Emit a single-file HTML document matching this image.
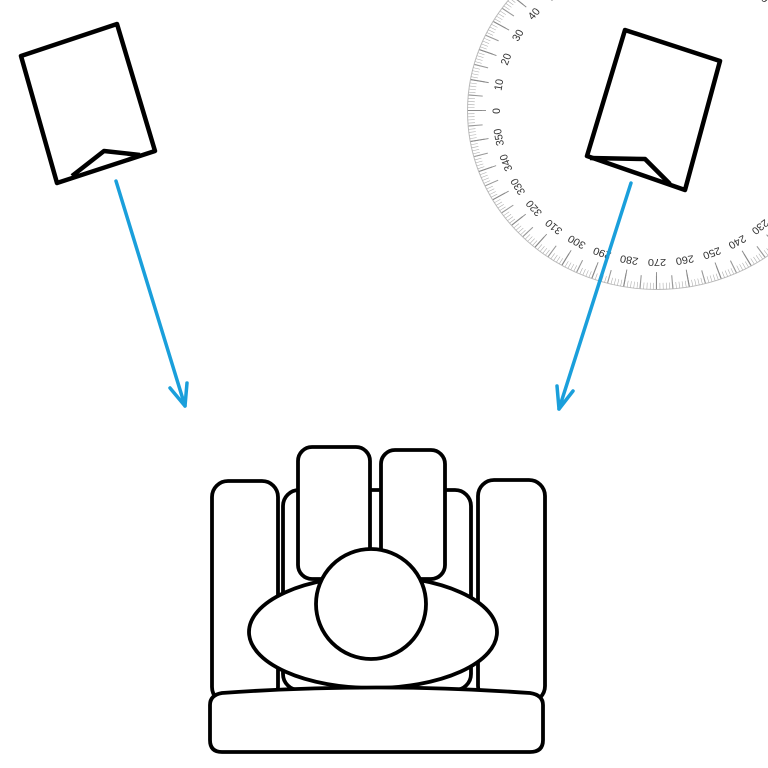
<!DOCTYPE html>
<html><head><meta charset="utf-8"><style>
html,body{margin:0;padding:0;background:#fff;}
svg{display:block;}
</style></head><body>
<svg width="768" height="768" viewBox="0 0 768 768" xmlns="http://www.w3.org/2000/svg">
<rect width="768" height="768" fill="#fff"/>
<g transform="translate(657 111) scale(1 0.942)">
  <circle r="189.5" fill="none" stroke="#bbb" stroke-width="1"/>
  <circle r="186" fill="none" stroke="#aaa" stroke-width="7" pathLength="720" stroke-dasharray="0.35 1.65"/>
  <circle r="182" fill="none" stroke="#999" stroke-width="14" pathLength="72" stroke-dasharray="0.07 0.93"/>
  <circle r="180" fill="none" stroke="#888" stroke-width="18" pathLength="36" stroke-dasharray="0.03 0.97" transform="rotate(180)"/>
  <g font-family="Liberation Sans, sans-serif" font-size="11" fill="#333" text-anchor="middle">
    <text transform="rotate(0) translate(-160 0) rotate(-90)" dy="3">0</text>
    <text transform="rotate(10) translate(-160 0) rotate(-90)" dy="3">10</text>
    <text transform="rotate(20) translate(-160 0) rotate(-90)" dy="3">20</text>
    <text transform="rotate(30) translate(-160 0) rotate(-90)" dy="3">30</text>
    <text transform="rotate(40) translate(-160 0) rotate(-90)" dy="3">40</text>
    <text transform="rotate(50) translate(-160 0) rotate(-90)" dy="3">50</text>
    <text transform="rotate(60) translate(-160 0) rotate(-90)" dy="3">60</text>
    <text transform="rotate(70) translate(-160 0) rotate(-90)" dy="3">70</text>
    <text transform="rotate(80) translate(-160 0) rotate(-90)" dy="3">80</text>
    <text transform="rotate(90) translate(-160 0) rotate(-90)" dy="3">90</text>
    <text transform="rotate(100) translate(-160 0) rotate(-90)" dy="3">100</text>
    <text transform="rotate(110) translate(-160 0) rotate(-90)" dy="3">110</text>
    <text transform="rotate(120) translate(-160 0) rotate(-90)" dy="3">120</text>
    <text transform="rotate(130) translate(-160 0) rotate(-90)" dy="3">130</text>
    <text transform="rotate(140) translate(-160 0) rotate(-90)" dy="3">140</text>
    <text transform="rotate(150) translate(-160 0) rotate(-90)" dy="3">150</text>
    <text transform="rotate(160) translate(-160 0) rotate(-90)" dy="3">160</text>
    <text transform="rotate(170) translate(-160 0) rotate(-90)" dy="3">170</text>
    <text transform="rotate(180) translate(-160 0) rotate(-90)" dy="3">180</text>
    <text transform="rotate(190) translate(-160 0) rotate(-90)" dy="3">190</text>
    <text transform="rotate(200) translate(-160 0) rotate(-90)" dy="3">200</text>
    <text transform="rotate(210) translate(-160 0) rotate(-90)" dy="3">210</text>
    <text transform="rotate(220) translate(-160 0) rotate(-90)" dy="3">220</text>
    <text transform="rotate(230) translate(-160 0) rotate(-90)" dy="3">230</text>
    <text transform="rotate(240) translate(-160 0) rotate(-90)" dy="3">240</text>
    <text transform="rotate(250) translate(-160 0) rotate(-90)" dy="3">250</text>
    <text transform="rotate(260) translate(-160 0) rotate(-90)" dy="3">260</text>
    <text transform="rotate(270) translate(-160 0) rotate(-90)" dy="3">270</text>
    <text transform="rotate(280) translate(-160 0) rotate(-90)" dy="3">280</text>
    <text transform="rotate(290) translate(-160 0) rotate(-90)" dy="3">290</text>
    <text transform="rotate(300) translate(-160 0) rotate(-90)" dy="3">300</text>
    <text transform="rotate(310) translate(-160 0) rotate(-90)" dy="3">310</text>
    <text transform="rotate(320) translate(-160 0) rotate(-90)" dy="3">320</text>
    <text transform="rotate(330) translate(-160 0) rotate(-90)" dy="3">330</text>
    <text transform="rotate(340) translate(-160 0) rotate(-90)" dy="3">340</text>
    <text transform="rotate(350) translate(-160 0) rotate(-90)" dy="3">350</text>
  </g>
</g>

<g fill="#fff" stroke="#000" stroke-width="4.5" stroke-linejoin="round">
  <polygon points="21,56 117,24 155,151 57,183"/>
  <polyline fill="none" points="72,176 104,151 140,155"/>
  <polygon points="625,30 720,61 685,190 587,156"/>
  <polyline fill="none" points="590,158 645,159 670,184"/>
</g>

<g stroke="#1a9fdb" stroke-width="3.5" fill="none" stroke-linecap="round" stroke-linejoin="round">
  <line x1="116" y1="181" x2="185" y2="406"/>
  <polyline points="170,388 185,406 187,383"/>
  <line x1="631" y1="183" x2="559" y2="409"/>
  <polyline points="557,386 559,409 573,391"/>
</g>

<g fill="#fff" stroke="#000" stroke-width="3.8">
  <rect x="283" y="490" width="188" height="200" rx="16"/>
  <rect x="212" y="481" width="66" height="222" rx="16"/>
  <rect x="478" y="480" width="67" height="222" rx="16"/>
  <rect x="298" y="447" width="72" height="132" rx="14"/>
  <rect x="381" y="450" width="64" height="129" rx="14"/>
  <ellipse cx="373" cy="632" rx="124" ry="56"/>
  <circle cx="371" cy="604" r="55"/>
  <path d="M222,693 Q376,682 530,693 Q543,695 543,705 L543,740 Q543,752 530,752 L222,752 Q210,752 210,740 L210,705 Q210,695 222,693 Z"/>
</g>
</svg>
</body></html>
